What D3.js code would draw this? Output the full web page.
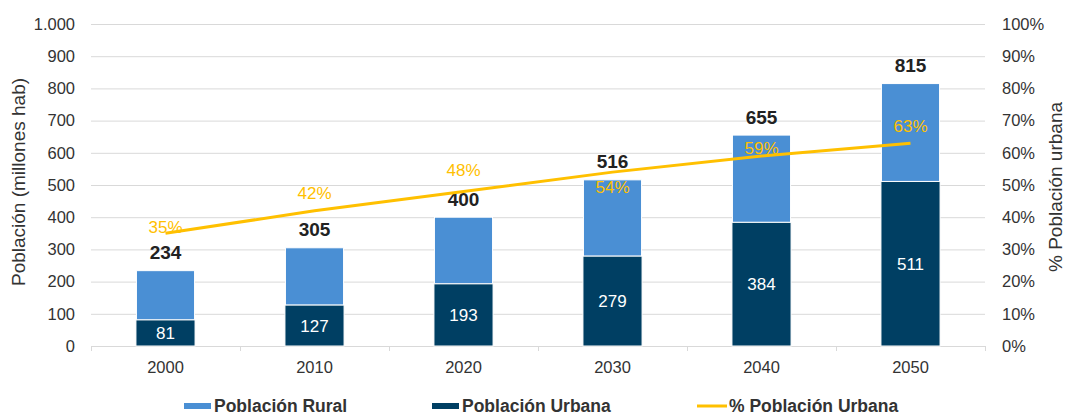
<!DOCTYPE html>
<html>
<head>
<meta charset="utf-8">
<script src="https://cdn.jsdelivr.net/npm/d3@7"></script>
<style>
  body { margin: 0; background: #fff; }
  svg { font-family: "Liberation Sans", Arial, sans-serif; }
</style>
</head>
<body>
<div id="chart"></div>
<script>
var years = ["2000", "2010", "2020", "2030", "2040", "2050"];
var urbana = [81, 127, 193, 279, 384, 511];
var total = [234, 305, 400, 516, 655, 815];
var pctUrbana = [0.35, 0.42, 0.48, 0.54, 0.59, 0.63];
var leftTicks = [0, 100, 200, 300, 400, 500, 600, 700, 800, 900, 1000];
var rightTicks = [0, 0.1, 0.2, 0.3, 0.4, 0.5, 0.6, 0.7, 0.8, 0.9, 1];

// label nudges for the % labels (Excel placed them by hand)
var pctLabelDy = [-6, -18, -21, 15, -8, -17];

var W = 1066, H = 415,
    margin = {top: 24, right: 81, bottom: 69, left: 91},
    width = W - margin.left - margin.right,
    height = H - margin.top - margin.bottom;

var svg = d3.select("#chart").append("svg")
    .attr("width", W)
    .attr("height", H);

var g = svg.append("g").attr("transform", "translate(" + margin.left + "," + margin.top + ")");

var x = d3.scaleBand().domain(years).range([0, width]).paddingInner(0.61).paddingOuter(0.305);
var xc = d3.scaleBand().domain(years).range([0, width]);
var y = d3.scaleLinear().domain([0, 1000]).range([height, 0]);
var y2 = d3.scaleLinear().domain([0, 1]).range([height, 0]);

var blueLight = "#4a8fd4", blueDark = "#003f63", gold = "#ffc000";

// gridlines
g.append("g").selectAll("line")
  .data(leftTicks.slice(1))
  .enter().append("line")
    .attr("x1", 0).attr("x2", width)
    .attr("y1", function(d) { return y(d) + 0.5; })
    .attr("y2", function(d) { return y(d) + 0.5; })
    .attr("stroke", "#d9d9d9");

// x axis line + ticks between categories
g.append("line")
    .attr("x1", 0).attr("x2", width)
    .attr("y1", height + 0.5).attr("y2", height + 0.5)
    .attr("stroke", "#d9d9d9");
g.append("g").selectAll("line")
  .data(years.concat(["end"]))
  .enter().append("line")
    .attr("x1", function(d, i) { return Math.round(i * xc.step()) + 0.5; })
    .attr("x2", function(d, i) { return Math.round(i * xc.step()) + 0.5; })
    .attr("y1", height).attr("y2", height + 5)
    .attr("stroke", "#d9d9d9");

// left axis labels
g.append("g").selectAll("text")
  .data(leftTicks)
  .enter().append("text")
    .attr("x", -16)
    .attr("y", function(d) { return y(d); })
    .attr("dy", "0.35em")
    .attr("text-anchor", "end")
    .attr("font-size", 16.5)
    .attr("fill", "#333")
    .text(function(d) { return d3.format(",")(d).replace(",", "."); });

// right axis labels
g.append("g").selectAll("text")
  .data(rightTicks)
  .enter().append("text")
    .attr("x", width + 17)
    .attr("y", function(d) { return y2(d); })
    .attr("dy", "0.35em")
    .attr("text-anchor", "start")
    .attr("font-size", 16.5)
    .attr("fill", "#333")
    .text(function(d) { return Math.round(d * 100) + "%"; });

// x labels
g.append("g").selectAll("text")
  .data(years)
  .enter().append("text")
    .attr("x", function(d) { return xc(d) + xc.bandwidth() / 2; })
    .attr("y", height + 21)
    .attr("dy", "0.35em")
    .attr("text-anchor", "middle")
    .attr("font-size", 16.5)
    .attr("fill", "#333")
    .text(function(d) { return d; });

// axis titles
svg.append("text")
    .attr("transform", "translate(25," + (margin.top + height / 2 - 3) + ") rotate(-90)")
    .attr("text-anchor", "middle")
    .attr("font-size", 19)
    .attr("fill", "#333")
    .text("Población (millones hab)");
svg.append("text")
    .attr("transform", "translate(1062," + (margin.top + height / 2 + 2) + ") rotate(-90)")
    .attr("text-anchor", "middle")
    .attr("font-size", 19)
    .attr("fill", "#333")
    .text("% Población urbana");

// bars
var rows = years.map(function(d, i) {
  return {year: d, urbana: urbana[i], total: total[i], pct: pctUrbana[i]};
});

g.append("g").selectAll("rect")
  .data(rows)
  .enter().append("rect")
    .attr("x", function(d) { return x(d.year); })
    .attr("y", function(d) { return y(d.total); })
    .attr("width", x.bandwidth())
    .attr("height", function(d) { return y(d.urbana) - y(d.total); })
    .attr("fill", blueLight)
    .attr("stroke", "#fff")
    .attr("stroke-width", 1);

g.append("g").selectAll("rect")
  .data(rows)
  .enter().append("rect")
    .attr("x", function(d) { return x(d.year) - 0.5; })
    .attr("y", function(d) { return y(d.urbana); })
    .attr("width", x.bandwidth() + 1)
    .attr("height", function(d) { return y(0) - y(d.urbana); })
    .attr("fill", blueDark)
    .attr("stroke", "#fff")
    .attr("stroke-width", 1);

// urban value labels
g.append("g").selectAll("text")
  .data(rows)
  .enter().append("text")
    .attr("x", function(d) { return x(d.year) + x.bandwidth() / 2; })
    .attr("y", function(d) { return (y(d.urbana) + y(0)) / 2; })
    .attr("dy", "0.35em")
    .attr("text-anchor", "middle")
    .attr("font-size", 17)
    .attr("fill", "#fff")
    .text(function(d) { return d.urbana; });

// total labels
g.append("g").selectAll("text")
  .data(rows)
  .enter().append("text")
    .attr("x", function(d) { return x(d.year) + x.bandwidth() / 2; })
    .attr("y", function(d) { return y(d.total) - 18; })
    .attr("dy", "0.35em")
    .attr("text-anchor", "middle")
    .attr("font-size", 19)
    .attr("font-weight", "bold")
    .attr("fill", "#222")
    .text(function(d) { return d.total; });

// % line
var line = d3.line()
    .x(function(d) { return xc(d.year) + xc.bandwidth() / 2; })
    .y(function(d) { return y2(d.pct); });

g.append("path")
    .datum(rows)
    .attr("d", line)
    .attr("fill", "none")
    .attr("stroke", gold)
    .attr("stroke-width", 3);

g.append("g").selectAll("text")
  .data(rows)
  .enter().append("text")
    .attr("x", function(d) { return xc(d.year) + xc.bandwidth() / 2; })
    .attr("y", function(d, i) { return y2(d.pct) + pctLabelDy[i]; })
    .attr("dy", "0.35em")
    .attr("text-anchor", "middle")
    .attr("font-size", 17)
    .attr("fill", gold)
    .text(function(d) { return Math.round(d.pct * 100) + "%"; });

// legend
var legendItems = [
  {label: "Población Rural", type: "rect", color: blueLight, x: 184},
  {label: "Población Urbana", type: "rect", color: blueDark, x: 432},
  {label: "% Población Urbana", type: "line", color: gold, x: 697}
];
var legend = svg.append("g").selectAll("g")
  .data(legendItems)
  .enter().append("g")
    .attr("transform", function(d) { return "translate(" + d.x + ",406)"; });

legend.filter(function(d) { return d.type === "rect"; })
  .append("rect")
    .attr("x", 0).attr("y", -3)
    .attr("width", 27).attr("height", 6)
    .attr("fill", function(d) { return d.color; });

legend.filter(function(d) { return d.type === "line"; })
  .append("line")
    .attr("x1", 0).attr("x2", 30)
    .attr("y1", 0).attr("y2", 0)
    .attr("stroke", function(d) { return d.color; })
    .attr("stroke-width", 3);

legend.append("text")
    .attr("x", function(d) { return d.type === "line" ? 32 : 30; })
    .attr("dy", "0.35em")
    .attr("font-size", 17.5)
    .attr("font-weight", "bold")
    .attr("fill", "#333")
    .text(function(d) { return d.label; });
</script>
</body>
</html>
